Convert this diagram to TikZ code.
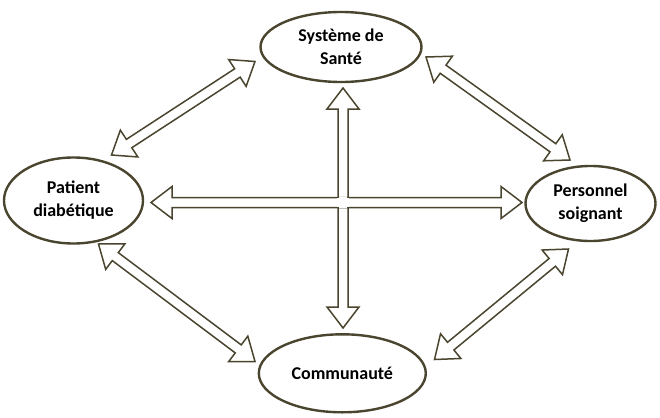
\documentclass[tikz,border=0pt]{standalone}
\usepackage{fontspec}
\setmainfont{Carlito}
\usetikzlibrary{shapes.geometric,calc}
\definecolor{olive}{RGB}{74,69,46}
\newcommand\dblarr[2]{%
  \path ($(#1)!21pt!(#2)$) coordinate (h1) ($(#2)!21pt!(#1)$) coordinate (h2);
  \draw[arrowbox] (#1) -- ($(h1)!16pt!90:(#2)$) -- ($(h1)!5pt!90:(#2)$)
    -- ($(h2)!5pt!-90:(#1)$) -- ($(h2)!16pt!-90:(#1)$) -- (#2)
    -- ($(h2)!16pt!90:(#1)$) -- ($(h2)!5pt!90:(#1)$)
    -- ($(h1)!5pt!-90:(#2)$) -- ($(h1)!16pt!-90:(#2)$) -- cycle;}
\tikzset{
  actor/.style={ellipse, draw=olive, line width=2.4pt, fill=white, inner sep=0pt,
    align=center, font=\fontsize{18}{23}\selectfont\bfseries, text=black},
  arrowbox/.style={draw=olive, line width=1.5pt, fill=white, line join=miter}
}
\begin{document}
\begin{tikzpicture}[x=1pt,y=-1pt]
\useasboundingbox (0,0) rectangle (660,417);
% nodes
\node[actor, minimum width=161pt, minimum height=70pt] (sys) at (341,47) {Système de\\Santé};
\node[actor, minimum width=139pt, minimum height=86pt] (pat) at (73.5,200.5) {Patient\\diabétique};
\node[actor, minimum width=130pt, minimum height=75pt] (pers) at (590.5,203.5) {Personnel\\soignant};
\node[actor, minimum width=167pt, minimum height=78pt] (com) at (342.3,373.3) {Communauté};
% arrow end points
\coordinate (sysS) at (343,88);
\coordinate (comN) at (343,328);
\coordinate (patE) at (151,202.5);
\coordinate (persW) at (522,202.5);
\coordinate (sysSW) at (255,61.5);
\coordinate (patNE) at (111.5,155);
\coordinate (sysSE) at (426,57);
\coordinate (persNW) at (570,160);
\coordinate (patSE) at (98.5,244);
\coordinate (comNW) at (255,361.5);
\coordinate (persSW) at (568.5,249);
\coordinate (comNE) at (434.5,359.5);
\coordinate (cross) at (343,202.5);
% connectors
\dblarr{patNE}{sysSW}
\dblarr{sysSE}{persNW}
\dblarr{patSE}{comNW}
\dblarr{comNE}{persSW}
\dblarr{sysS}{comN}
\dblarr{patE}{persW}
% open the crossing
\fill[white] ($(cross)+(-5.8,-4.2)$) rectangle ($(cross)+(5.8,4.2)$);
\fill[white] ($(cross)+(-4.2,-5.8)$) rectangle ($(cross)+(4.2,5.8)$);
\end{tikzpicture}
\end{document}
